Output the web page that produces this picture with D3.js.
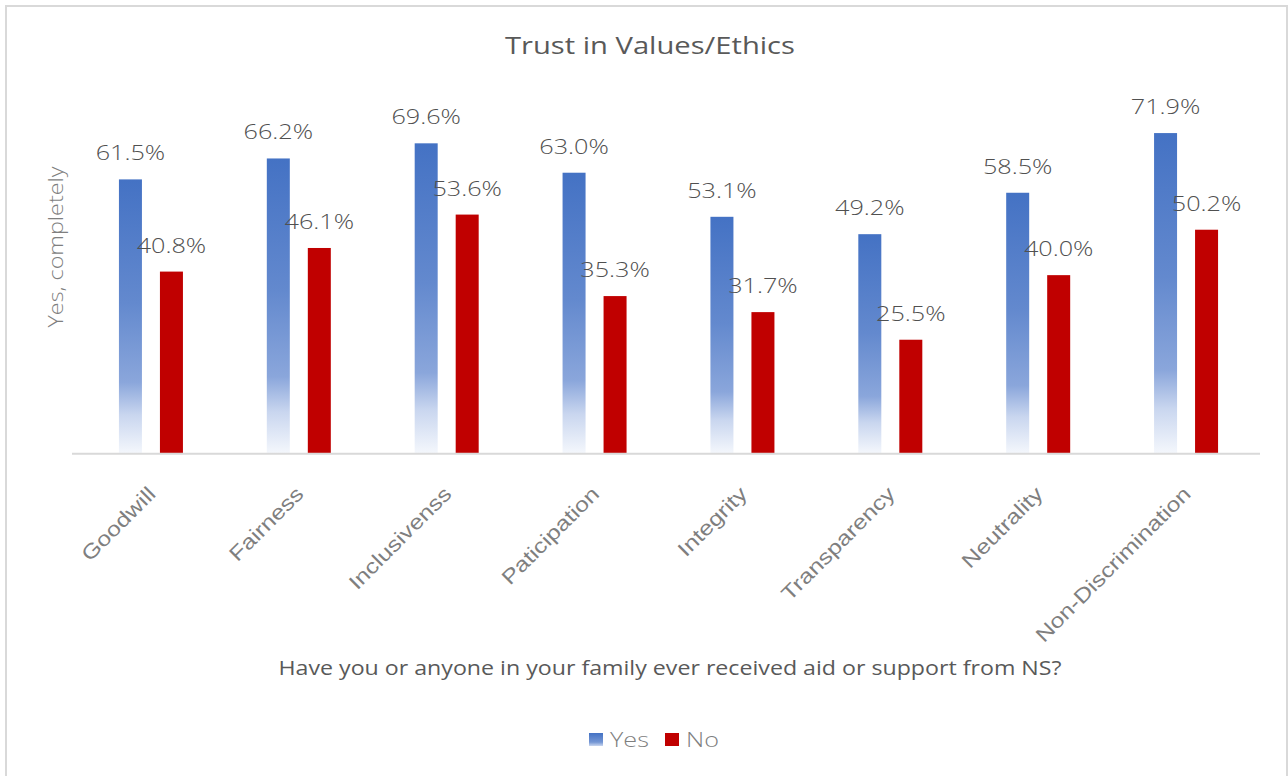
<!DOCTYPE html>
<html>
<head>
<meta charset="utf-8">
<script src="https://cdn.jsdelivr.net/npm/d3@7"></script>
<style>
  html, body { margin: 0; padding: 0; background: #fff; }
  svg { display: block; font-family: "Open Sans", "Noto Sans", sans-serif; font-weight: 300; }
</style>
</head>
<body>
<svg id="chart" width="1288" height="776"></svg>
<script>
// Trust in values/ethics by whether the respondent's family received aid from NS
const categories = ["Goodwill", "Fairness", "Inclusivenss", "Paticipation", "Integrity", "Transparency", "Neutrality", "Non-Discrimination"];
const seriesNames = ["Yes", "No"];
const yesValues = [0.615, 0.662, 0.696, 0.630, 0.531, 0.492, 0.585, 0.719];
const noValues = [0.408, 0.461, 0.536, 0.353, 0.317, 0.255, 0.400, 0.502];

const titleText = "Trust in Values/Ethics";
const yAxisTitle = "Yes, completely";
const xAxisTitle = "Have you or anyone in your family ever received aid or support from NS?";

const BLUE = "#4472C4", RED = "#C00000", GRID = "#D9D9D9";
const DARK = "#505050", MID = "#595959", LIGHT = "#7F7F7F";
// glyphs are set slightly wide, as in the office-style chart font
const WIDEN = 1.2;

const svg = d3.select("#chart");

function widen(sel, k = WIDEN) {
  sel.each(function () {
    const len = this.getComputedTextLength();
    d3.select(this).attr("textLength", len * k).attr("lengthAdjust", "spacingAndGlyphs");
  });
  return sel;
}

// outer chart frame
svg.append("rect")
  .attr("x", 6).attr("y", 6).attr("width", 1281).attr("height", 800)
  .attr("fill", "#fff").attr("stroke", GRID).attr("stroke-width", 2);

const defs = svg.append("defs");
const grad = defs.append("linearGradient")
  .attr("id", "yesFill").attr("x1", 0).attr("y1", 0).attr("x2", 0).attr("y2", 1);
[[0, "#4472C4"], [0.45, "#6389CE"], [0.74, "#8AA6DB"], [0.86, "#C9D6EF"], [1, "#F4F7FC"]]
  .forEach(([o, c]) => grad.append("stop").attr("offset", o).attr("stop-color", c));

const x0 = d3.scaleBand().domain(categories).range([77, 1260]);
const x1 = d3.scaleBand().domain(seriesNames).range([-32, 32]).paddingInner(0.439);
const y = d3.scaleLinear().domain([0, 0.8]).range([453.3, 97]);

const rows = categories.map((c, i) => ({ cat: c, Yes: yesValues[i], No: noValues[i] }));

const groups = svg.append("g").selectAll("g")
  .data(rows).join("g")
  .attr("transform", d => `translate(${x0(d.cat) + x0.bandwidth() / 2},0)`);

groups.selectAll("rect")
  .data(d => seriesNames.map(s => ({ s, v: d[s] })))
  .join("rect")
  .attr("x", d => x1(d.s))
  .attr("width", x1.bandwidth())
  .attr("y", d => y(d.v))
  .attr("height", d => y(0) - y(d.v))
  .attr("fill", d => d.s === "Yes" ? "url(#yesFill)" : RED);

// value labels
groups.selectAll("text.val")
  .data(d => seriesNames.map(s => ({ s, v: d[s] })))
  .join("text")
  .attr("class", "val")
  .attr("x", d => x1(d.s) + x1.bandwidth() / 2)
  .attr("y", d => y(d.v) - 19)
  .attr("text-anchor", "middle")
  .attr("font-size", 21)
  .attr("fill", DARK)
  .text(d => d3.format(".1%")(d.v))
  .call(widen);

// category axis
const xAxis = svg.append("g").attr("transform", `translate(0,${y(0)})`)
  .call(d3.axisBottom(x0).tickSize(0).tickPadding(0));
xAxis.select(".domain").remove();
svg.append("line")
  .attr("x1", 72).attr("x2", 1260).attr("y1", y(0) + 0.5).attr("y2", y(0) + 0.5)
  .attr("stroke", GRID).attr("stroke-width", 2);
xAxis.selectAll(".tick text")
  .attr("font-family", null)
  .attr("font-size", 20.5)
  .attr("fill", LIGHT)
  .attr("text-anchor", "end")
  .attr("dy", 0)
  .attr("transform", "translate(6,42) rotate(-45)")
  .call(widen, 1.21);

// titles
svg.append("text")
  .attr("x", 650).attr("y", 54)
  .attr("text-anchor", "middle").attr("font-size", 24.5).attr("font-weight", 400).attr("fill", MID)
  .text(titleText).call(widen, 1.19);

svg.append("text")
  .attr("transform", "translate(63,247) rotate(-90)")
  .attr("text-anchor", "middle").attr("font-size", 21).attr("fill", LIGHT)
  .text(yAxisTitle).call(widen, 1.11);

svg.append("text")
  .attr("x", 670).attr("y", 675)
  .attr("text-anchor", "middle").attr("font-size", 20.5).attr("font-weight", 400).attr("fill", MID)
  .text(xAxisTitle).call(widen, 1.13);

// legend
const legend = svg.append("g");
const legendItems = [
  { name: "Yes", fill: "url(#legendYes)", x: 589 },
  { name: "No", fill: RED, x: 665 }
];
const lg = defs.append("linearGradient")
  .attr("id", "legendYes").attr("x1", 0).attr("y1", 0).attr("x2", 0).attr("y2", 1);
[[0, "#4472C4"], [0.7, "#7496D4"], [1, "#C9D6EF"]]
  .forEach(([o, c]) => lg.append("stop").attr("offset", o).attr("stop-color", c));
legendItems.forEach(it => {
  legend.append("rect").attr("x", it.x).attr("y", 733).attr("width", 14).attr("height", 13).attr("fill", it.fill);
  legend.append("text").attr("x", it.x + 21).attr("y", 747)
    .attr("font-size", 21).attr("fill", LIGHT).text(it.name).call(widen);
});
</script>
</body>
</html>
